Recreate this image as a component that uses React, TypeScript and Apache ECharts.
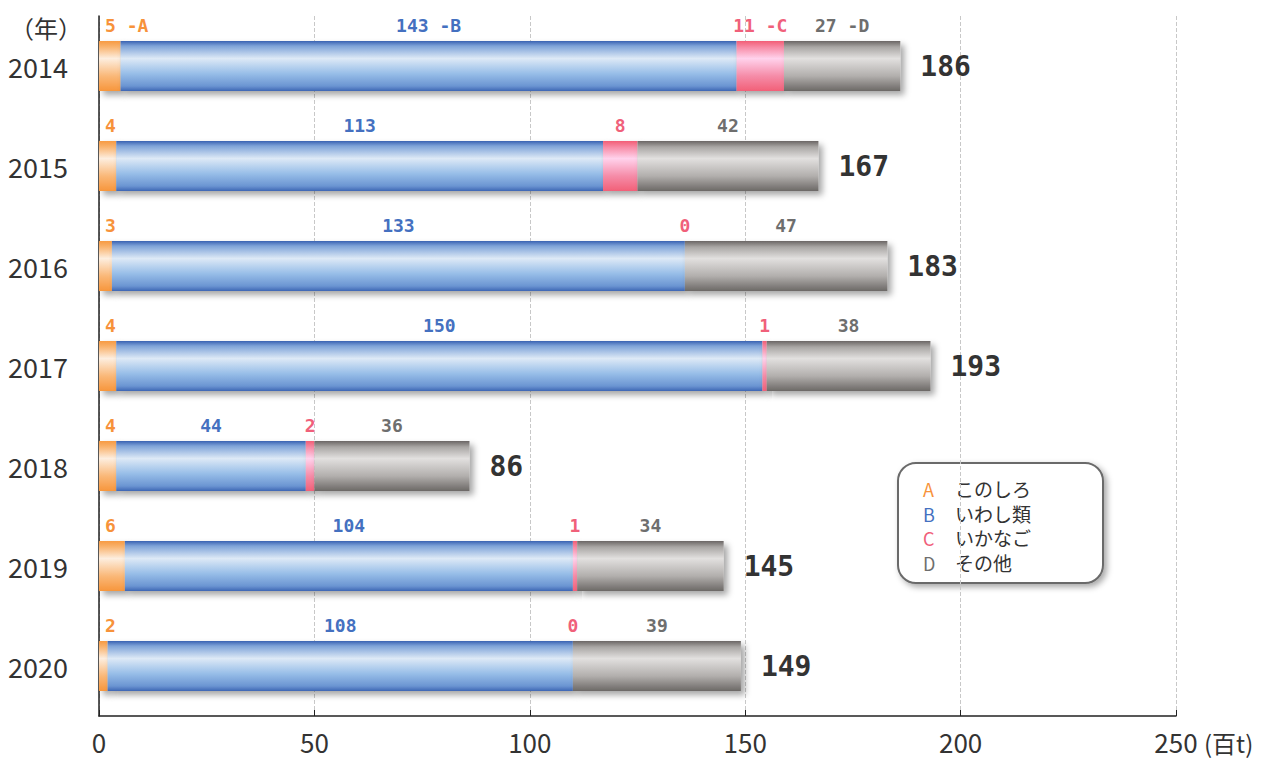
import React, { useEffect, useRef } from "react";
import * as echarts from "echarts";

const years = ["2014", "2015", "2016", "2017", "2018", "2019", "2020"];
const konoshiro = [5, 4, 3, 4, 4, 6, 2];
const iwashi = [143, 113, 133, 150, 44, 104, 108];
const ikanago = [11, 8, 0, 1, 2, 1, 0];
const sonota = [27, 42, 47, 38, 36, 34, 39];
const totals = [186, 167, 183, 193, 86, 145, 149];
const xTicks = [0, 50, 100, 150, 200, 250];
const legendKeys = ["A", "B", "C", "D"];
const legendNames = ["このしろ", "いわし類", "いかなご", "その他"];

const FONT = "'Noto Sans CJK JP', 'Noto Sans', sans-serif";
const MONO = "'DejaVu Sans Mono', 'Liberation Mono', monospace";
const colA = "#f7923a";
const colB = "#4470c0";
const colC = "#f0607a";
const colD = "#6e6e6e";

const grad = (stops: [number, string][]) =>
  new echarts.graphic.LinearGradient(
    0, 0, 0, 1,
    stops.map(([offset, color]) => ({ offset, color }))
  );

const shadow = {
  shadowColor: "rgba(0,0,0,0.35)",
  shadowBlur: 6,
  shadowOffsetX: 4,
  shadowOffsetY: 4,
};

export default function App() {
  const ref = useRef<HTMLDivElement>(null);
  useEffect(() => {
    if (!ref.current) return;
    const chart = echarts.init(ref.current, null, { renderer: "svg" });
    const segLabel = (color: string, suffix: string) => ({
      show: true,
      position: "top",
      distance: 7,
      color,
      fontSize: 18,
      fontWeight: "bold",
      fontFamily: MONO,
      formatter: (p: any) => (p.dataIndex === 0 ? `${p.value} -${suffix}` : `${p.value}`),
    });
    const option: any = {
      animation: false,
      backgroundColor: "#ffffff",
      grid: { left: 99, right: 95, top: 16, bottom: 43, containLabel: false },
      xAxis: {
        type: "value",
        min: 0,
        max: 250,
        interval: 50,
        axisLine: { show: true, lineStyle: { color: "#222", width: 1.5 } },
        axisTick: { show: true, inside: true, length: 6, lineStyle: { color: "#222" } },
        splitLine: { show: true, lineStyle: { color: "#c8c8c8", type: "dashed" } },
        axisLabel: {
          color: "#333",
          fontSize: 26,
          fontFamily: FONT,
          margin: 12,
          formatter: (v: number) => (xTicks.includes(v) ? String(v) : ""),
        },
      },
      yAxis: {
        type: "category",
        data: years,
        inverse: true,
        axisLine: { show: true, lineStyle: { color: "#222", width: 1.5 } },
        axisTick: { show: false },
        axisLabel: { color: "#333", fontSize: 27, fontFamily: FONT, margin: 31 },
      },
      series: [
        {
          name: "このしろ",
          type: "bar",
          stack: "t",
          barWidth: 50,
          data: konoshiro,
          itemStyle: {
            color: grad([[0, "#f79a42"], [0.12, "#f9b470"], [0.35, "#fdeedf"], [0.7, "#fab878"], [1, "#f7963c"]]),
            ...shadow,
          },
          label: {
            ...segLabel(colA, "A"),
            position: [6, -7],
            align: "left",
            verticalAlign: "bottom",
          },
        },
        {
          name: "いわし類",
          type: "bar",
          stack: "t",
          barWidth: 50,
          data: iwashi,
          itemStyle: {
            color: grad([[0, "#3a62b2"], [0.1, "#7ea3d8"], [0.35, "#dde9f6"], [0.65, "#98bee8"], [0.9, "#6b95d2"], [1, "#3e66b4"]]),
            ...shadow,
          },
          label: segLabel(colB, "B"),
        },
        {
          name: "いかなご",
          type: "bar",
          stack: "t",
          barWidth: 50,
          data: ikanago,
          itemStyle: {
            color: grad([[0, "#f25e76"], [0.12, "#f78aa4"], [0.35, "#ffd2ec"], [0.7, "#f58ca8"], [1, "#f26078"]]),
            ...shadow,
          },
          label: segLabel(colC, "C"),
        },
        {
          name: "その他",
          type: "bar",
          stack: "t",
          barWidth: 50,
          data: sonota,
          itemStyle: {
            color: grad([[0, "#6a6664"], [0.12, "#a9a6a4"], [0.35, "#e2e0df"], [0.7, "#b2afad"], [1, "#6c6866"]]),
            ...shadow,
          },
          label: segLabel(colD, "D"),
        },
        {
          name: "total",
          type: "bar",
          stack: "t",
          barWidth: 50,
          data: totals.map(() => 0),
          itemStyle: { color: "rgba(0,0,0,0)" },
          label: {
            show: true,
            position: "right",
            distance: 20,
            color: "#333",
            fontSize: 28,
            fontWeight: "bold",
            fontFamily: MONO,
            formatter: (p: any) => String(totals[p.dataIndex]),
          },
        },
      ],
      graphic: [
        {
          type: "text",
          left: 10,
          top: 15,
          style: { text: "（年）", fontSize: 24, fill: "#333", fontFamily: FONT },
        },
        {
          type: "text",
          left: 1204,
          top: 730,
          style: { text: "(百t)", fontSize: 24, fill: "#333", fontFamily: FONT },
        },
        {
          type: "group",
          left: 897,
          top: 462,
          children: [
            {
              type: "rect",
              shape: { x: 0, y: 0, width: 205, height: 120, r: 18 },
              style: {
                fill: "#ffffff",
                stroke: "#6a6a6a",
                lineWidth: 2,
                shadowColor: "rgba(0,0,0,0.35)",
                shadowBlur: 6,
                shadowOffsetX: 3,
                shadowOffsetY: 3,
              },
            },
            ...legendKeys.map((k, i) => ({
              type: "text",
              x: 25,
              y: 16 + i * 24.5,
              style: {
                text: k,
                fontSize: 18,
                lineHeight: 20,
                fill: [colA, colB, colC, colD][i],
                fontFamily: FONT,
              },
            })),
            ...legendNames.map((n, i) => ({
              type: "text",
              x: 57,
              y: 15 + i * 24.5,
              style: { text: n, fontSize: 19, lineHeight: 21, fill: "#333", fontFamily: FONT },
            })),
          ],
        },
      ],
    };
    chart.setOption(option);
    return () => chart.dispose();
  }, []);
  return (
    <div
      ref={ref}
      style={{ position: "absolute", left: 0, top: 0, width: 1271, height: 759 }}
    />
  );
}
